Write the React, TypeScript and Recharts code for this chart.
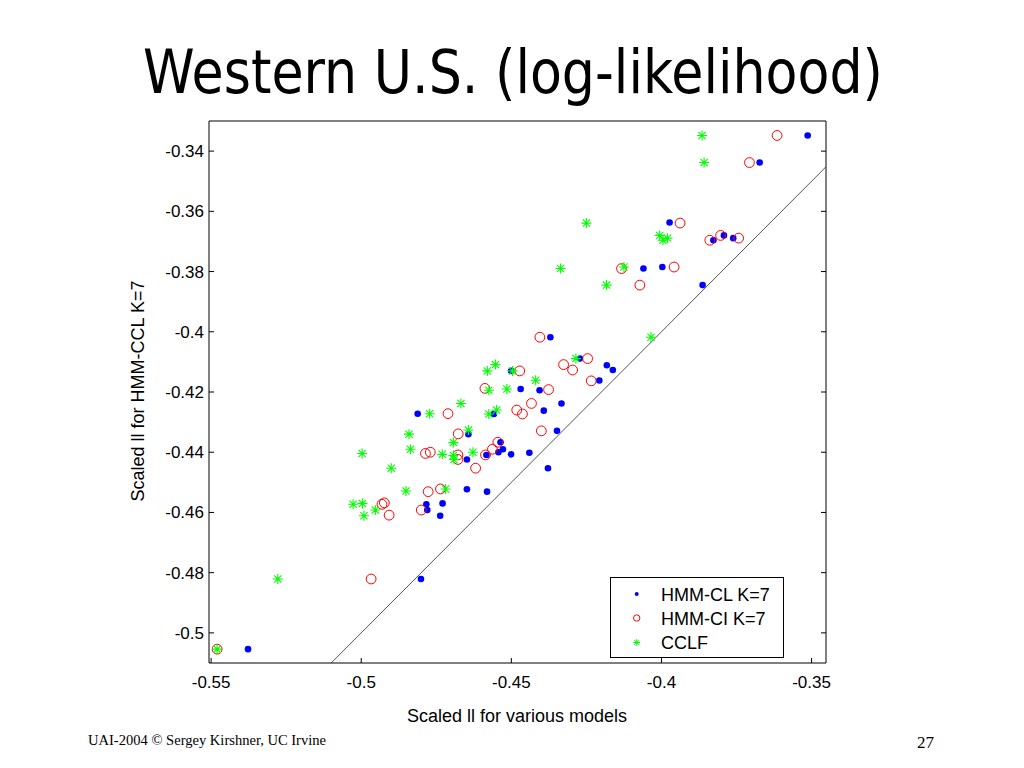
import React from 'react';
import { ScatterChart, Scatter, XAxis, YAxis, ReferenceLine, Legend } from 'recharts';

// ---- data (x = scaled ll of model, y = scaled ll of HMM-CCL K=7) ----
const hmmClRows: number[][] = [
  [-0.3513, -0.3348], [-0.3673, -0.3438], [-0.3973, -0.3637], [-0.3827, -0.3696], [-0.3792, -0.3680],
  [-0.3761, -0.3689], [-0.4060, -0.3790], [-0.3997, -0.3785], [-0.3863, -0.3845], [-0.4370, -0.4018],
  [-0.4272, -0.4089], [-0.4182, -0.4111], [-0.4162, -0.4127], [-0.4207, -0.4162], [-0.4501, -0.4130],
  [-0.4469, -0.4190], [-0.4406, -0.4194], [-0.4333, -0.4238], [-0.4558, -0.4273], [-0.4392, -0.4262],
  [-0.4643, -0.4340], [-0.4348, -0.4329], [-0.4536, -0.4367], [-0.4528, -0.4390], [-0.4583, -0.4409],
  [-0.4543, -0.4400], [-0.4501, -0.4407], [-0.4440, -0.4402], [-0.4648, -0.4424], [-0.4378, -0.4453],
  [-0.4648, -0.4523], [-0.4581, -0.4531], [-0.4812, -0.4272], [-0.4783, -0.4573], [-0.4780, -0.4592],
  [-0.4729, -0.4570], [-0.4737, -0.4611], [-0.4801, -0.4821], [-0.5377, -0.5054],
];

const hmmCiRows: number[][] = [
  [-0.3615, -0.3348], [-0.3707, -0.3438], [-0.3938, -0.3639], [-0.3839, -0.3696], [-0.3803, -0.3680],
  [-0.3743, -0.3689], [-0.4133, -0.3790], [-0.3958, -0.3785], [-0.4072, -0.3845], [-0.4405, -0.4018],
  [-0.4246, -0.4089], [-0.4326, -0.4109], [-0.4296, -0.4127], [-0.4234, -0.4163], [-0.4472, -0.4130],
  [-0.4376, -0.4192], [-0.4588, -0.4188], [-0.4433, -0.4238], [-0.4711, -0.4272], [-0.4482, -0.4260],
  [-0.4463, -0.4273], [-0.4677, -0.4339], [-0.4400, -0.4329], [-0.4545, -0.4367], [-0.4563, -0.4390],
  [-0.4586, -0.4409], [-0.4678, -0.4409], [-0.4678, -0.4424], [-0.4786, -0.4404], [-0.4770, -0.4400],
  [-0.4619, -0.4453], [-0.4777, -0.4531], [-0.4736, -0.4522], [-0.4931, -0.4573], [-0.4923, -0.4568],
  [-0.4907, -0.4609], [-0.4800, -0.4592], [-0.4967, -0.4821], [-0.5480, -0.5054],
];

const cclfRows: number[][] = [
  [-0.3865, -0.3348], [-0.3858, -0.3438], [-0.4250, -0.3639], [-0.4006, -0.3680], [-0.3995, -0.3696],
  [-0.3980, -0.3689], [-0.4336, -0.3790], [-0.4125, -0.3785], [-0.4183, -0.3845], [-0.4035, -0.4018],
  [-0.4285, -0.4089], [-0.4419, -0.4161], [-0.4496, -0.4130], [-0.4553, -0.4109], [-0.4580, -0.4130],
  [-0.4575, -0.4194], [-0.4515, -0.4190], [-0.4668, -0.4238], [-0.4575, -0.4273], [-0.4549, -0.4260],
  [-0.4643, -0.4326], [-0.4693, -0.4368], [-0.4730, -0.4407], [-0.4693, -0.4411], [-0.4691, -0.4424],
  [-0.4628, -0.4400], [-0.4772, -0.4272], [-0.4841, -0.4340], [-0.4997, -0.4404], [-0.4836, -0.4390],
  [-0.4900, -0.4453], [-0.4851, -0.4529], [-0.4719, -0.4522], [-0.5027, -0.4573], [-0.4996, -0.4570],
  [-0.4953, -0.4592], [-0.4991, -0.4611], [-0.5278, -0.4821], [-0.5480, -0.5054],
];

const seriesNames = ['HMM-CL K=7', 'HMM-CI K=7', 'CCLF'];
const xTicks = [-0.55, -0.5, -0.45, -0.4, -0.35];
const yTicks = [-0.5, -0.48, -0.46, -0.44, -0.42, -0.4, -0.38, -0.36, -0.34];
const xDomain: [number, number] = [-0.5507, -0.3452];
const yDomain: [number, number] = [-0.51, -0.33];
const identityRange = [-0.51, -0.3452];

const titleText = 'Western U.S. (log-likelihood)';
const xLabelText = 'Scaled ll for various models';
const yLabelText = 'Scaled ll for HMM-CCL K=7';
const footerText = 'UAI-2004 \u00A9 Sergey Kirshner, UC Irvine';
const pageNumber = '27';

// ---- styles ----
const BLUE = '#0000ff';
const RED = '#ff0000';
const GREEN = '#00ff00';
const AXIS = '#000000';
const SANS = "'Liberation Sans', Arial, Helvetica, sans-serif";

const toPts = (rows: number[][]) => rows.map(([x, y]) => ({ x, y }));
const hmmCl = toPts(hmmClRows);
const hmmCi = toPts(hmmCiRows);
const cclf = toPts(cclfRows);

const fmt = (v: number) => String(Number(v.toFixed(2)));

const starPath = (cx: number, cy: number, a: number) => {
  const d = a * 0.72;
  return `M${cx - a},${cy}H${cx + a}M${cx},${cy - a}V${cy + a}M${cx - d},${cy - d}L${cx + d},${cy + d}M${cx - d},${cy + d}L${cx + d},${cy - d}`;
};

const DotShape = (p: any) => <circle cx={p.cx} cy={p.cy} r={3.3} fill={BLUE} stroke="none" />;
const RingShape = (p: any) => (
  <circle cx={p.cx} cy={p.cy} r={4.9} fill="none" stroke={RED} strokeWidth={1} />
);
const StarShape = (p: any) => (
  <path d={starPath(p.cx, p.cy, 5)} stroke={GREEN} strokeWidth={1.1} fill="none" />
);

const Empty = () => <g />;

const LegendBox = () => {
  const rowY = [17, 41, 65.5];
  const mx = 26.7;
  return (
    <svg width={174} height={81} style={{ display: 'block' }}>
      <rect x={0.5} y={0.5} width={173} height={80} fill="#fff" stroke="#000" strokeWidth={1} />
      <circle cx={mx} cy={rowY[0]} r={2} fill={BLUE} />
      <circle cx={mx} cy={rowY[1]} r={3.2} fill="none" stroke={RED} strokeWidth={1} />
      <path d={starPath(mx, rowY[2], 3.4)} stroke={GREEN} strokeWidth={1} fill="none" />
      {seriesNames.map((n, i) => (
        <text key={n} x={51} y={rowY[i] + 6.5} fontSize={18} fontFamily={SANS} fill="#000">
          {n}
        </text>
      ))}
    </svg>
  );
};

export default function App() {
  return (
    <div style={{ position: 'absolute', left: 0, top: 0, width: 1024, height: 768, background: '#fff' }}>
      <ScatterChart
        width={1024}
        height={768}
        margin={{ top: 120, right: 197, bottom: 75, left: 149 }}
      >
        <XAxis
          type="number"
          dataKey="x"
          domain={xDomain}
          allowDataOverflow
          ticks={xTicks}
          interval={0}
          tickFormatter={fmt}
          height={30}
          tickSize={-5}
          tickMargin={18}
          stroke={AXIS}
          tick={{ fontSize: 17, fontFamily: SANS, fill: '#000' }}
        />
        <YAxis
          type="number"
          dataKey="y"
          domain={yDomain}
          allowDataOverflow
          ticks={yTicks}
          interval={0}
          tickFormatter={fmt}
          width={60}
          tickSize={-5}
          tickMargin={10}
          stroke={AXIS}
          tick={{ fontSize: 17, fontFamily: SANS, fill: '#000' }}
        />
        <XAxis
          xAxisId="top"
          orientation="top"
          type="number"
          domain={xDomain}
          allowDataOverflow
          ticks={xTicks}
          interval={0}
          height={1}
          tickSize={-5}
          tick={Empty}
          stroke={AXIS}
        />
        <YAxis
          yAxisId="right"
          orientation="right"
          type="number"
          domain={yDomain}
          allowDataOverflow
          ticks={yTicks}
          interval={0}
          width={1}
          tickSize={-5}
          tick={Empty}
          stroke={AXIS}
        />
        <ReferenceLine
          segment={[
            { x: identityRange[0], y: identityRange[0] },
            { x: identityRange[1], y: identityRange[1] },
          ]}
          stroke="#555"
          strokeWidth={1}
          ifOverflow="hidden"
        />
        <Scatter name={seriesNames[0]} data={hmmCl} shape={DotShape} isAnimationActive={false} />
        <Scatter name={seriesNames[1]} data={hmmCi} shape={RingShape} isAnimationActive={false} />
        <Scatter name={seriesNames[2]} data={cclf} shape={StarShape} isAnimationActive={false} />
        <Legend
          layout="horizontal"
          verticalAlign="middle"
          align="center"
          width={174}
          height={81}
          wrapperStyle={{ left: 610, top: 577, width: 174, height: 81 }}
          content={() => <LegendBox />}
        />
      </ScatterChart>
      <svg
        width={1024}
        height={768}
        style={{ position: 'absolute', left: 0, top: 0, pointerEvents: 'none' }}
      >
        <text
          x={513}
          y={93}
          fontSize={60}
          fontFamily="'DejaVu Sans', Verdana, sans-serif"
          textAnchor="middle"
          textLength={740}
          lengthAdjust="spacingAndGlyphs"
          fill="#000"
        >
          {titleText}
        </text>
        <text x={517} y={722} fontSize={18} fontFamily={SANS} textAnchor="middle" fill="#000">
          {xLabelText}
        </text>
        <text
          transform="translate(144,391) rotate(-90)"
          x={0}
          y={0}
          fontSize={18}
          fontFamily={SANS}
          textAnchor="middle"
          fill="#000"
        >
          {yLabelText}
        </text>
        <text
          x={88}
          y={745}
          fontSize={15}
          fontFamily="'Liberation Serif', 'Times New Roman', serif"
          textLength={238}
          lengthAdjust="spacingAndGlyphs"
          fill="#000"
        >
          {footerText}
        </text>
        <text
          x={934}
          y={748}
          fontSize={17}
          fontFamily="'Liberation Serif', 'Times New Roman', serif"
          textAnchor="end"
          fill="#000"
        >
          {pageNumber}
        </text>
      </svg>
    </div>
  );
}
